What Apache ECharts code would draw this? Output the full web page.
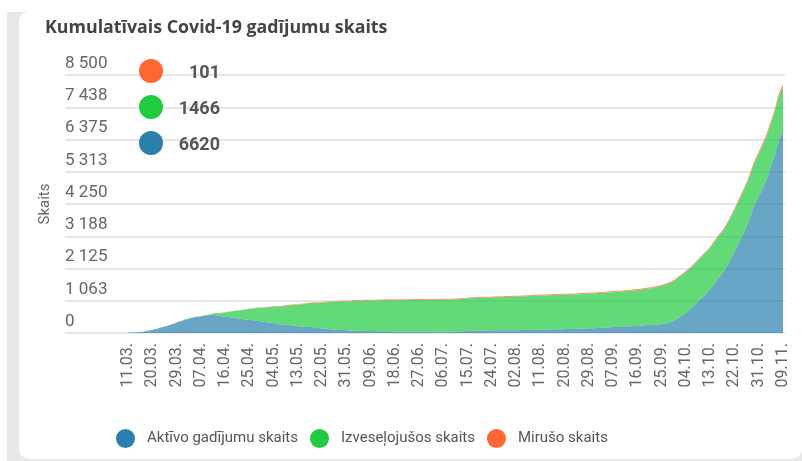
<!DOCTYPE html>
<html>
<head>
<meta charset="utf-8">
<script src="https://cdn.jsdelivr.net/npm/echarts@6/dist/echarts.min.js"></script>
<style>html,body{margin:0;padding:0;background:#fff;}#c{width:802px;height:461px;}</style>
</head>
<body>
<div id="c"></div>
<script>
const titleText = 'Kumulatīvais Covid-19 gadījumu skaits';
const yAxisName = 'Skaits';
const seriesNames = ['Aktīvo gadījumu skaits', 'Izveseļojušos skaits', 'Mirušo skaits'];
const yTickLabels = ['0', '1 063', '2 125', '3 188', '4 250', '5 313', '6 375', '7 438', '8 500'];

const categories = [
'11.03.','12.03.','13.03.','14.03.','15.03.','16.03.','17.03.','18.03.','19.03.','20.03.','21.03.','22.03.','23.03.','24.03.','25.03.','26.03.','27.03.','28.03.','29.03.','30.03.','31.03.',
'01.04.','02.04.','03.04.','04.04.','05.04.','06.04.','07.04.','08.04.','09.04.','10.04.','11.04.','12.04.','13.04.','14.04.','15.04.','16.04.','17.04.','18.04.','19.04.','20.04.','21.04.','22.04.','23.04.','24.04.','25.04.','26.04.','27.04.','28.04.','29.04.','30.04.',
'01.05.','02.05.','03.05.','04.05.','05.05.','06.05.','07.05.','08.05.','09.05.','10.05.','11.05.','12.05.','13.05.','14.05.','15.05.','16.05.','17.05.','18.05.','19.05.','20.05.','21.05.','22.05.','23.05.','24.05.','25.05.','26.05.','27.05.','28.05.','29.05.','30.05.','31.05.',
'01.06.','02.06.','03.06.','04.06.','05.06.','06.06.','07.06.','08.06.','09.06.','10.06.','11.06.','12.06.','13.06.','14.06.','15.06.','16.06.','17.06.','18.06.','19.06.','20.06.','21.06.','22.06.','23.06.','24.06.','25.06.','26.06.','27.06.','28.06.','29.06.','30.06.',
'01.07.','02.07.','03.07.','04.07.','05.07.','06.07.','07.07.','08.07.','09.07.','10.07.','11.07.','12.07.','13.07.','14.07.','15.07.','16.07.','17.07.','18.07.','19.07.','20.07.','21.07.','22.07.','23.07.','24.07.','25.07.','26.07.','27.07.','28.07.','29.07.','30.07.','31.07.',
'01.08.','02.08.','03.08.','04.08.','05.08.','06.08.','07.08.','08.08.','09.08.','10.08.','11.08.','12.08.','13.08.','14.08.','15.08.','16.08.','17.08.','18.08.','19.08.','20.08.','21.08.','22.08.','23.08.','24.08.','25.08.','26.08.','27.08.','28.08.','29.08.','30.08.','31.08.',
'01.09.','02.09.','03.09.','04.09.','05.09.','06.09.','07.09.','08.09.','09.09.','10.09.','11.09.','12.09.','13.09.','14.09.','15.09.','16.09.','17.09.','18.09.','19.09.','20.09.','21.09.','22.09.','23.09.','24.09.','25.09.','26.09.','27.09.','28.09.','29.09.','30.09.',
'01.10.','02.10.','03.10.','04.10.','05.10.','06.10.','07.10.','08.10.','09.10.','10.10.','11.10.','12.10.','13.10.','14.10.','15.10.','16.10.','17.10.','18.10.','19.10.','20.10.','21.10.','22.10.','23.10.','24.10.','25.10.','26.10.','27.10.','28.10.','29.10.','30.10.','31.10.',
'01.11.','02.11.','03.11.','04.11.','05.11.','06.11.','07.11.','08.11.','09.11.'
];

const active = [
10,16,17,26,30,34,49,71,86,111,123,138,179,196,220,243,279,304,346,375,397,
445,457,490,505,527,532,534,559,567,581,587,593,576,559,546,537,526,515,505,492,479,466,457,437,431,425,409,403,389,374,
363,348,334,322,307,292,279,271,270,257,251,239,222,213,206,200,203,198,184,172,160,153,143,137,123,118,111,108,102,96,87,
79,76,82,77,73,69,69,66,64,63,59,59,61,61,57,55,54,53,51,49,48,47,50,49,49,49,47,46,47,47,
45,43,43,43,43,42,43,45,44,47,52,56,58,61,67,76,79,80,82,84,85,85,85,88,89,88,88,88,89,91,91,
92,93,94,96,96,96,100,104,106,108,109,112,114,118,121,122,122,125,127,130,131,133,135,136,138,140,143,147,153,156,160,
165,170,174,179,184,189,195,201,206,212,216,220,223,225,229,232,239,248,254,260,264,269,277,283,295,308,325,347,378,421,
483,537,597,667,734,812,899,987,1084,1172,1249,1336,1443,1560,1687,1804,1911,2028,2175,2332,2498,2674,2860,3046,3232,3418,3624,3869,4124,4329,4504,
4686,4878,5077,5337,5596,5864,6204,6463,6620
];

const recovered = [
0,0,0,0,0,0,0,0,0,0,1,1,1,1,1,1,1,1,1,1,1,
1,1,2,3,5,8,12,16,20,28,40,55,75,95,115,140,165,190,215,240,260,285,310,335,360,380,400,420,440,460,
480,500,520,540,560,580,600,620,640,655,670,690,710,730,745,760,775,790,805,820,835,850,865,880,895,905,915,925,935,945,955,
963,970,978,984,990,995,1000,1003,1006,1009,1012,1015,1018,1021,1024,1026,1028,1030,1032,1034,1035,1036,1037,1038,1039,1040,1041,1042,1043,1045,
1047,1049,1050,1051,1052,1053,1054,1055,1056,1057,1058,1060,1062,1064,1066,1068,1070,1072,1074,1076,1078,1080,1082,1084,1086,1088,1090,1092,1094,1096,1098,
1100,1102,1105,1108,1110,1112,1115,1118,1120,1121,1122,1123,1124,1125,1126,1127,1128,1129,1130,1131,1132,1133,1134,1135,1136,1137,1138,1139,1140,1141,1142,
1143,1144,1145,1146,1147,1148,1149,1150,1152,1155,1158,1162,1166,1170,1175,1180,1185,1190,1195,1200,1210,1220,1232,1245,1258,1270,1283,1296,1310,1322,
1330,1336,1341,1345,1348,1350,1352,1354,1356,1358,1360,1362,1364,1366,1368,1370,1372,1374,1376,1378,1380,1382,1384,1386,1388,1390,1392,1394,1396,1398,1400,
1405,1410,1418,1425,1433,1442,1450,1458,1466
];

const deaths = [
0,0,0,0,0,0,0,0,0,0,0,0,0,0,0,0,0,0,0,0,0,
0,0,1,1,1,2,2,2,2,3,3,3,4,4,5,5,5,7,7,7,9,10,11,12,13,13,13,13,14,15,
15,16,16,17,17,17,17,18,18,18,18,18,18,18,19,19,19,20,20,20,21,22,22,22,23,23,23,24,24,24,24,
24,25,25,25,25,25,25,25,25,25,26,26,26,26,27,27,27,27,28,28,28,28,28,29,29,29,30,30,30,30,
30,30,30,30,30,30,30,30,30,30,30,30,30,30,30,30,30,30,31,31,31,31,31,31,31,31,31,31,32,32,32,
32,32,32,32,32,32,32,32,32,32,33,33,33,33,33,33,33,33,33,33,34,34,34,34,34,34,34,34,34,34,34,
35,35,35,35,35,35,35,35,35,35,36,36,36,36,36,36,36,36,36,36,36,36,36,37,37,37,37,37,37,37,
37,37,37,38,38,38,39,39,40,40,41,42,43,44,45,46,47,48,49,50,52,54,56,58,60,62,64,67,70,73,76,
79,82,85,88,91,94,96,99,101
];

const colors = ['#2a7fad', '#1fcb3f', '#ff6633'];
const seriesData = [active, recovered, deaths];
const FONT = 'Roboto';

const chart = echarts.init(document.getElementById('c'), null, {renderer: 'canvas'});
const yStep = 1062.5;

const lastValueOf = {};
seriesNames.forEach((n, i) => { lastValueOf[n] = seriesData[i][seriesData[i].length - 1]; });

chart.setOption({
  animation: false,
  backgroundColor: '#fff',
  textStyle: {fontFamily: FONT},
  graphic: [
    {type: 'rect', z: -10, shape: {x: 7, y: 12, width: 795, height: 449}, style: {fill: '#e8e8e8'}, silent: true},
    {type: 'rect', z: -9, shape: {x: 19, y: 12, width: 783, height: 447, r: [9, 0, 10, 10]}, style: {fill: '#fff'}, silent: true}
  ],
  title: {
    text: titleText, left: 45, top: 19, padding: 0,
    textStyle: {fontFamily: 'Open Sans', fontSize: 17.8, fontWeight: 'bold', color: '#444'}
  },
  legend: [
    {
      data: seriesNames.slice().reverse(),
      orient: 'vertical', left: 139, top: 59, padding: 0,
      itemWidth: 24, itemHeight: 24, itemGap: 12, icon: 'circle',
      selectedMode: false,
      formatter: name => '{v|' + lastValueOf[name] + '}',
      textStyle: {rich: {v: {fontFamily: FONT, fontSize: 18, fontWeight: 'bold', color: '#555', width: 52, align: 'right', padding: [4, 0, 0, 0]}}}
    },
    {
      data: seriesNames,
      orient: 'horizontal', left: 116, top: 429, padding: 0,
      itemWidth: 19, itemHeight: 19, itemGap: 12, icon: 'circle',
      selectedMode: false,
      textStyle: {fontFamily: FONT, fontSize: 15, color: '#555', padding: [0, 0, 0, 7]}
    }
  ],
  grid: [
    {left: 65, right: 17, top: 75, height: 258},
    {left: 128, right: 19, top: 75, height: 258}
  ],
  xAxis: [
    {gridIndex: 0, type: 'value', show: false, min: 0, max: 1},
    {
      gridIndex: 1, type: 'category', data: categories, boundaryGap: false,
      axisLine: {show: false}, axisTick: {show: false},
      axisLabel: {interval: 8, rotate: 90, margin: 10, fontFamily: FONT, fontSize: 16, color: '#666'}
    }
  ],
  yAxis: [
    {
      gridIndex: 0, type: 'value', min: 0, max: 8500, interval: yStep,
      name: yAxisName, nameLocation: 'middle', nameRotate: 90, nameGap: 12,
      nameTextStyle: {fontFamily: FONT, fontSize: 15, color: '#666'},
      axisLine: {show: false}, axisTick: {show: false},
      splitLine: {lineStyle: {color: '#e6e6e6', width: 2}},
      axisLabel: {
        inside: true, margin: 0, align: 'left', verticalAlign: 'bottom',
        padding: [0, 0, 3, 0],
        fontFamily: FONT, fontSize: 17, color: '#666',
        formatter: v => yTickLabels[Math.round(v / yStep)]
      }
    },
    {gridIndex: 1, type: 'value', min: 0, max: 8500, interval: yStep, show: false, splitLine: {show: false}}
  ],
  series: seriesNames.map((n, i) => ({
    name: n, type: 'line', xAxisIndex: 1, yAxisIndex: 1, stack: 'total',
    data: seriesData[i], symbol: 'none', showSymbol: false,
    color: colors[i],
    lineStyle: {width: 0},
    areaStyle: {color: colors[i], opacity: 0.7}
  }))
});
</script>
</body>
</html>
